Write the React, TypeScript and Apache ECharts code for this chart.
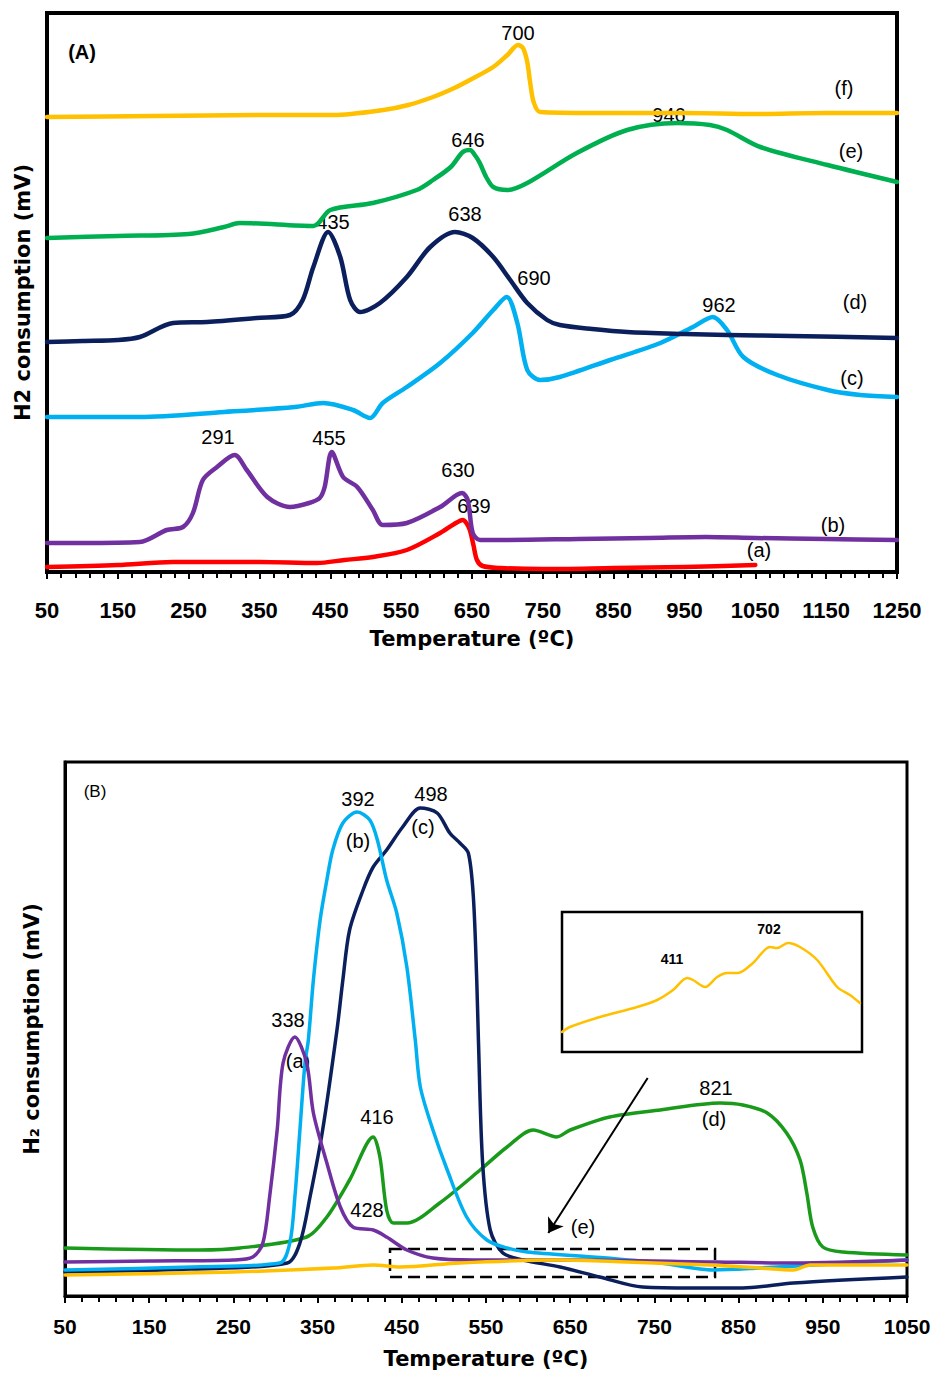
import React, { useEffect, useRef } from "react";
import * as echarts from "echarts";

// ---------- Panel (A): TPR profiles (stacked), [temperature °C, signal a.u.] ----------
const A_a: number[][] = [[50,5],[150,7],[228,10],[350,10],[431,9],[470,12],[510,15],[558,22],[605,39],[625,48],[637,52],[642,49],[647,42],[652,27],[657,12],[665,6],[690,4],[750,3],[850,4],[950,5],[1050,7]];
const A_b: number[][] = [[50,29],[100,29],[181,30],[219,42],[242,45],[256,59],[270,92],[290,105],[315,117],[332,102],[361,75],[393,65],[420,69],[435,74],[442,85],[452,120],[468,95],[488,85],[510,62],[524,47],[558,49],[605,65],[636,79],[644,72],[651,39],[661,32],[690,32],[800,33],[900,34],[980,35],[1050,34],[1150,33],[1250,32]];
const A_c: number[][] = [[50,155],[181,155],[300,160],[400,165],[440,169],[482,162],[506,154],[524,169],[558,185],[605,209],[651,239],[680,262],[699,275],[714,249],[728,202],[746,192],[774,195],[845,212],[916,229],[962,245],[990,255],[1010,242],[1033,215],[1081,197],[1152,182],[1198,177],[1250,175]];
const A_d: number[][] = [[50,230],[100,231],[150,232],[181,235],[228,249],[276,250],[346,254],[393,257],[411,272],[426,305],[447,340],[464,315],[478,272],[492,260],[520,269],[558,295],[591,325],[626,340],[651,334],[680,315],[704,292],[728,269],[756,252],[774,247],[820,243],[869,240],[950,238],[1010,237],[1100,236],[1250,234]];
const A_e: number[][] = [[50,334],[150,336],[250,338],[300,345],[322,349],[426,346],[450,362],[510,369],[572,382],[595,392],[620,405],[637,420],[647,422],[655,416],[661,409],[670,395],[680,385],[700,382],[728,389],[798,419],[869,442],[940,449],[986,447],[1010,442],[1057,425],[1152,407],[1250,390]];
const A_f: number[][] = [[50,455],[200,456],[350,457],[454,457],[525,462],[560,467],[595,475],[625,484],[647,492],[680,505],[700,517],[715,527],[722,524],[728,510],[732,490],[737,470],[746,460],[821,459],[950,459],[1050,458],[1150,459],[1250,459]];

// ---------- Panel (B) ----------
const B_a: number[][] = [[50,34],[150,35],[250,36],[273,39],[285,53],[293,99],[302,166],[309,233],[323,259],[337,233],[345,183],[361,133],[377,89],[392,69],[416,66],[432,59],[456,46],[487,38],[535,36],[650,36],[824,34],[915,33],[1050,36]];
const B_b: number[][] = [[50,26],[200,29],[305,33],[317,53],[323,99],[329,166],[335,233],[339,256],[345,316],[353,376],[361,416],[368,446],[380,473],[397,484],[412,476],[421,456],[432,416],[444,383],[456,329],[466,256],[472,209],[487,166],[504,126],[527,79],[551,56],[575,48],[599,44],[677,39],[757,33],[820,26],[875,28],[1050,36]];
const B_c: number[][] = [[50,24],[200,27],[314,33],[329,53],[341,99],[356,166],[373,266],[380,316],[388,366],[404,406],[416,429],[432,446],[451,469],[472,488],[492,483],[507,463],[519,453],[529,443],[535,399],[539,316],[541,256],[546,133],[555,66],[570,43],[594,36],[638,29],[685,19],[736,9],[796,8],[855,8],[915,13],[1050,19]];
const B_d: number[][] = [[50,48],[210,46],[258,48],[337,59],[361,79],[388,116],[416,159],[424,139],[432,86],[440,73],[456,73],[495,93],[543,126],[575,149],[606,166],[634,159],[650,166],[697,179],[757,186],[828,193],[855,191],[884,183],[907,163],[923,136],[931,103],[938,69],[950,49],[974,44],[1050,41]];
const B_e: number[][] = [[50,21],[250,24],[368,28],[416,31],[448,29],[519,33],[638,36],[717,34],[816,31],[875,28],[915,26],[935,31],[1050,31]];
// Inset: zoom of (e)
const B_inset: number[][] = [[50,20],[73,25],[160,35],[268,45],[326,52],[372,62],[413,74],[430,72],[465,65],[500,75],[529,79],[560,79],[604,89],[653,105],[674,104],[705,109],[740,105],[790,92],[848,65],[885,57],[914,49]];
// Zoom box & arrow (data coords of panel B)
const B_box = { x: [436, 822], y: [19, 47] };
const B_arrow = { from: [742, 218], to: [624, 63] };

const X_MIN = 50;
const A_X_MAX = 1250, A_Y_MAX = 559;
const B_X_MAX = 1050, B_Y_MAX = 534;
const INSET_X = [50, 920], INSET_Y_MAX = 140;

const NUM_FONT = "'Liberation Sans', Arial, sans-serif";
const TITLE_FONT = "'DejaVu Sans', sans-serif";

const C = {
  red: "#ff0000",
  purple: "#7030a0",
  lblue: "#00b0f0",
  navy: "#0b1f5c",
  greenA: "#00b050",
  greenB: "#1a9a1a",
  yellow: "#ffc000",
};

const shift = (d: number[][]) => d.map(([t, v]) => [t - X_MIN, v]);

type Lbl = [string, number, number, number?, string?];
const labelsA: Lbl[] = [
  ["(A)", 82, 52, 20, "bold"],
  ["700", 518, 33], ["(f)", 844, 88], ["946", 669, 115], ["646", 468, 140], ["(e)", 851, 151],
  ["435", 333, 222], ["638", 465, 214], ["690", 534, 278], ["(d)", 855, 302], ["962", 719, 305],
  ["(c)", 852, 378], ["291", 218, 437], ["455", 329, 438], ["630", 458, 470], ["639", 474, 506],
  ["(b)", 833, 525], ["(a)", 759, 550],
];
const labelsB: Lbl[] = [
  ["(B)", 95, 791, 17], ["392", 358, 799], ["(b)", 358, 841], ["498", 431, 794], ["(c)", 423, 827],
  ["338", 288, 1020], ["(a)", 298, 1061], ["416", 377, 1117], ["428", 367, 1210],
  ["821", 716, 1088], ["(d)", 714, 1119], ["(e)", 583, 1227],
  ["411", 672, 959, 14, "bold"], ["702", 769, 929, 14, "bold"],
];

function lineSeries(data: number[][], color: string, width: number, axis: number) {
  return {
    type: "line",
    xAxisIndex: axis,
    yAxisIndex: axis,
    data: axis === 2 ? data : shift(data),
    showSymbol: false,
    symbol: "none",
    smooth: 0.3,
    lineStyle: { color, width, cap: "round", join: "round" },
    itemStyle: { color },
    silent: true,
  } as any;
}

function xAxisFor(grid: number, max: number, margin: number, fs: number, gap: number) {
  return {
    gridIndex: grid,
    type: "value",
    min: 0,
    max: max - X_MIN,
    interval: 100,
    axisLine: { show: true, onZero: false, lineStyle: { color: "#000", width: grid === 0 ? 4 : 3 } },
    axisTick: { show: true, inside: false, length: 7, lineStyle: { color: "#000", width: 2 } },
    minorTick: { show: true, splitNumber: 5, length: 6, lineStyle: { color: "#000", width: 2 } },
    splitLine: { show: false },
    minorSplitLine: { show: false },
    axisLabel: {
      formatter: (v: number) => String(v + X_MIN),
      margin,
      color: "#000",
      fontSize: fs,
      fontWeight: "bold",
      fontFamily: NUM_FONT,
    },
    name: "Temperature (ºC)",
    nameLocation: "middle",
    nameGap: gap,
    nameTextStyle: { color: "#000", fontSize: 21, fontWeight: "bold", fontFamily: TITLE_FONT },
  } as any;
}

function yAxisFor(grid: number, max: number, name: string, gap: number) {
  return {
    gridIndex: grid,
    type: "value",
    min: 0,
    max,
    axisLine: { show: true, lineStyle: { color: "#000", width: 3 } },
    axisTick: { show: false },
    axisLabel: { show: false },
    splitLine: { show: false },
    name,
    nameLocation: "middle",
    nameGap: gap,
    nameTextStyle: { color: "#000", fontSize: 21, fontWeight: "bold", fontFamily: TITLE_FONT },
  } as any;
}

function textEls(list: Lbl[]) {
  return list.map(([text, x, y, fs, fw]) => ({
    type: "text",
    x,
    y,
    silent: true,
    style: {
      text,
      fill: "#000",
      fontSize: fs ?? 20,
      fontWeight: fw ?? "normal",
      fontFamily: NUM_FONT,
      align: "center",
      verticalAlign: "middle",
    },
  }));
}

const option: any = {
  animation: false,
  backgroundColor: "#fff",
  grid: [
    { left: 47, top: 13, width: 850, height: 559, show: true, borderColor: "#000", borderWidth: 4 },
    { left: 65, top: 762, width: 842, height: 534, show: true, borderColor: "#000", borderWidth: 3 },
    { left: 562, top: 912, width: 300, height: 140, show: true, borderColor: "#000", borderWidth: 2.5, backgroundColor: "#fff" },
  ],
  xAxis: [
    xAxisFor(0, A_X_MAX, 27, 22, 56),
    xAxisFor(1, B_X_MAX, 20, 21, 52),
    { gridIndex: 2, type: "value", min: INSET_X[0], max: INSET_X[1], show: false },
  ],
  yAxis: [
    yAxisFor(0, A_Y_MAX, "H2 consumption (mV)", 14),
    yAxisFor(1, B_Y_MAX, "H₂ consumption (mV)", 23),
    { gridIndex: 2, type: "value", min: 0, max: INSET_Y_MAX, show: false },
  ],
  series: [
    lineSeries(A_a, C.red, 4.5, 0),
    lineSeries(A_b, C.purple, 4.5, 0),
    lineSeries(A_c, C.lblue, 4.5, 0),
    lineSeries(A_d, C.navy, 4.5, 0),
    lineSeries(A_e, C.greenA, 4.5, 0),
    lineSeries(A_f, C.yellow, 4.5, 0),
    lineSeries(B_d, C.greenB, 3.5, 1),
    lineSeries(B_c, C.navy, 3.5, 1),
    lineSeries(B_b, C.lblue, 3.5, 1),
    lineSeries(B_a, C.purple, 3.5, 1),
    {
      ...lineSeries(B_e, C.yellow, 3.5, 1),
      markArea: {
        silent: true,
        itemStyle: { color: "rgba(0,0,0,0)", borderColor: "#000", borderWidth: 2.5, borderType: [12, 6] },
        label: { show: false },
        data: [[
          { coord: [B_box.x[0] - X_MIN, B_box.y[1]] },
          { coord: [B_box.x[1] - X_MIN, B_box.y[0]] },
        ]],
      },
      markLine: {
        silent: true,
        symbol: ["none", "arrow"],
        symbolSize: 14,
        label: { show: false },
        lineStyle: { color: "#000", width: 2, type: "solid" },
        data: [[
          { coord: [B_arrow.from[0] - X_MIN, B_arrow.from[1]] },
          { coord: [B_arrow.to[0] - X_MIN, B_arrow.to[1]] },
        ]],
      },
    },
    lineSeries(B_inset, C.yellow, 2.5, 2),
  ],
  graphic: [...textEls(labelsA), ...textEls(labelsB)],
};

export default function App() {
  const ref = useRef<HTMLDivElement>(null);
  useEffect(() => {
    const chart = echarts.init(ref.current as HTMLDivElement, null, { renderer: "svg" });
    chart.setOption(option);
    return () => chart.dispose();
  }, []);
  return (
    <div
      ref={ref}
      style={{ position: "absolute", left: 0, top: 0, width: 935, height: 1377, background: "#fff" }}
    />
  );
}
